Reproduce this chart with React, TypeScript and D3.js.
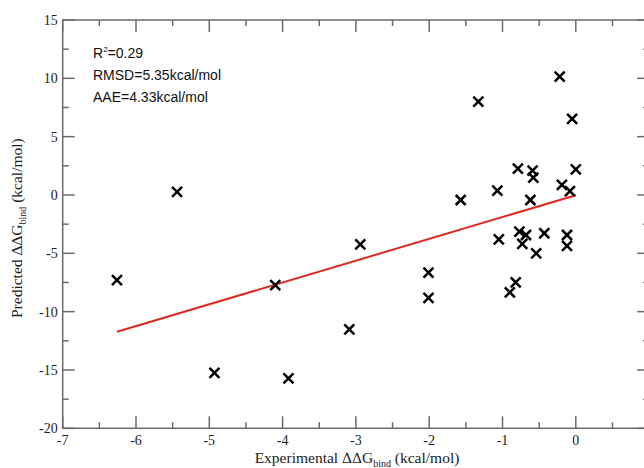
import * as d3 from 'd3'

// experimental vs predicted ddG (kcal/mol)
const expVals = [-6.26, -5.44, -4.93, -4.10, -3.92, -3.09, -2.94, -2.01, -2.01, -1.57, -1.33, -1.07, -1.05,
  -0.79, -0.59, -0.58, -0.62, -0.77, -0.68, -0.73, -0.43, -0.54, -0.82, -0.90, -0.19, -0.08, 0.0,
  -0.05, -0.22, -0.12, -0.12]
const predVals = [-7.29, 0.26, -15.24, -7.72, -15.72, -11.52, -4.23, -6.66, -8.81, -0.43, 8.0, 0.37, -3.8,
  2.26, 2.08, 1.48, -0.43, -3.15, -3.43, -4.2, -3.28, -5.0, -7.49, -8.34, 0.86, 0.34, 2.2,
  6.52, 10.15, -3.43, -4.37]
const fitLine = [1.87, -0.02] // slope, intercept
const statLines = ['=0.29', 'RMSD=5.35kcal/mol', 'AAE=4.33kcal/mol']
const xMajor = [-7, -6, -5, -4, -3, -2, -1, 0, 1]
const yMajor = [15, 10, 5, 0, -5, -10, -15, -20]

const W = 644, H = 468
const left = 62.7, top = 20, bottom = 428.3, right = 62.7 + 8 * 73.3

const App = () => {
  const x = d3.scaleLinear().domain([-7, 1]).range([left, right])
  const y = d3.scaleLinear().domain([-20, 15]).range([bottom, top])
  const xMinor = d3.range(-6.5, 1, 1)
  const yMinor = d3.range(-17.5, 15, 5)
  const axisCol = '#6a6a6a'
  const serif = '"Liberation Serif", "Times New Roman", serif'
  const narrow = '"Liberation Sans Narrow", "Liberation Sans", Arial, sans-serif'

  const [slope, icpt] = fitLine
  const xExt = d3.extent(expVals) as [number, number]
  const line = d3.line<number>().x(d => x(d)).y(d => y(slope * d + icpt))

  const s = 5
  return (
    <svg width={W} height={H} style={{ position: 'absolute', left: 0, top: 0, background: '#fff' }}>
      <rect x={left} y={top} width={right - left} height={bottom - top} fill="none" stroke={axisCol} strokeWidth={1.5} />
      {xMajor.map(t => (
        <g key={'xm' + t}>
          <line x1={x(t)} x2={x(t)} y1={bottom} y2={bottom - 12} stroke={axisCol} strokeWidth={1.5} />
          <line x1={x(t)} x2={x(t)} y1={top} y2={top + 12} stroke={axisCol} strokeWidth={1.5} />
          <text x={x(t)} y={bottom + 17} textAnchor="middle" fontFamily={serif} fontSize={14} fill="#222">{t === 1 ? '' : String(t)}</text>
        </g>
      ))}
      {xMinor.map(t => (
        <g key={'xn' + t}>
          <line x1={x(t)} x2={x(t)} y1={bottom} y2={bottom - 6} stroke={axisCol} strokeWidth={1.5} />
          <line x1={x(t)} x2={x(t)} y1={top} y2={top + 6} stroke={axisCol} strokeWidth={1.5} />
        </g>
      ))}
      {yMajor.map(t => (
        <g key={'ym' + t}>
          <line x1={left} x2={left + 12} y1={y(t)} y2={y(t)} stroke={axisCol} strokeWidth={1.5} />
          <line x1={right} x2={right - 12} y1={y(t)} y2={y(t)} stroke={axisCol} strokeWidth={1.5} />
          <text x={left - 5} y={y(t) + 5} textAnchor="end" fontFamily={serif} fontSize={14} fill="#222">{String(t)}</text>
        </g>
      ))}
      {yMinor.map(t => (
        <g key={'yn' + t}>
          <line x1={left} x2={left + 6} y1={y(t)} y2={y(t)} stroke={axisCol} strokeWidth={1.5} />
          <line x1={right} x2={right - 6} y1={y(t)} y2={y(t)} stroke={axisCol} strokeWidth={1.5} />
        </g>
      ))}

      <path d={line(xExt) || ''} fill="none" stroke="#e0281e" strokeWidth={2} />

      {expVals.map((v, i) => {
        const cx = x(v), cy = y(predVals[i])
        return (
          <path key={i} d={`M${cx - s},${cy - s}L${cx + s},${cy + s}M${cx - s},${cy + s}L${cx + s},${cy - s}`}
            stroke="#000" strokeWidth={2.5} fill="none" />
        )
      })}

      <text x={93} y={58} fontFamily={narrow} fontSize={14} fill="#111">
        R<tspan dy={-6} fontSize={8}>2</tspan><tspan dy={6}>{statLines[0]}</tspan>
      </text>
      <text x={93} y={80} fontFamily={narrow} fontSize={14} fill="#111">{statLines[1]}</text>
      <text x={93} y={102} fontFamily={narrow} fontSize={14} fill="#111">{statLines[2]}</text>

      <text x={357} y={463} textAnchor="middle" fontFamily={serif} fontSize={15.5} fill="#222">
        Experimental ΔΔG<tspan dy={4} fontSize={10}>bind</tspan><tspan dy={-4}> (kcal/mol)</tspan>
      </text>
      <text transform={`translate(22,${(top + bottom) / 2 + 4}) rotate(-90)`} textAnchor="middle" fontFamily={serif} fontSize={15.5} fill="#222">
        Predicted ΔΔG<tspan dy={4} fontSize={10}>bind</tspan><tspan dy={-4}> (kcal/mol)</tspan>
      </text>
    </svg>
  )
}

export default App
